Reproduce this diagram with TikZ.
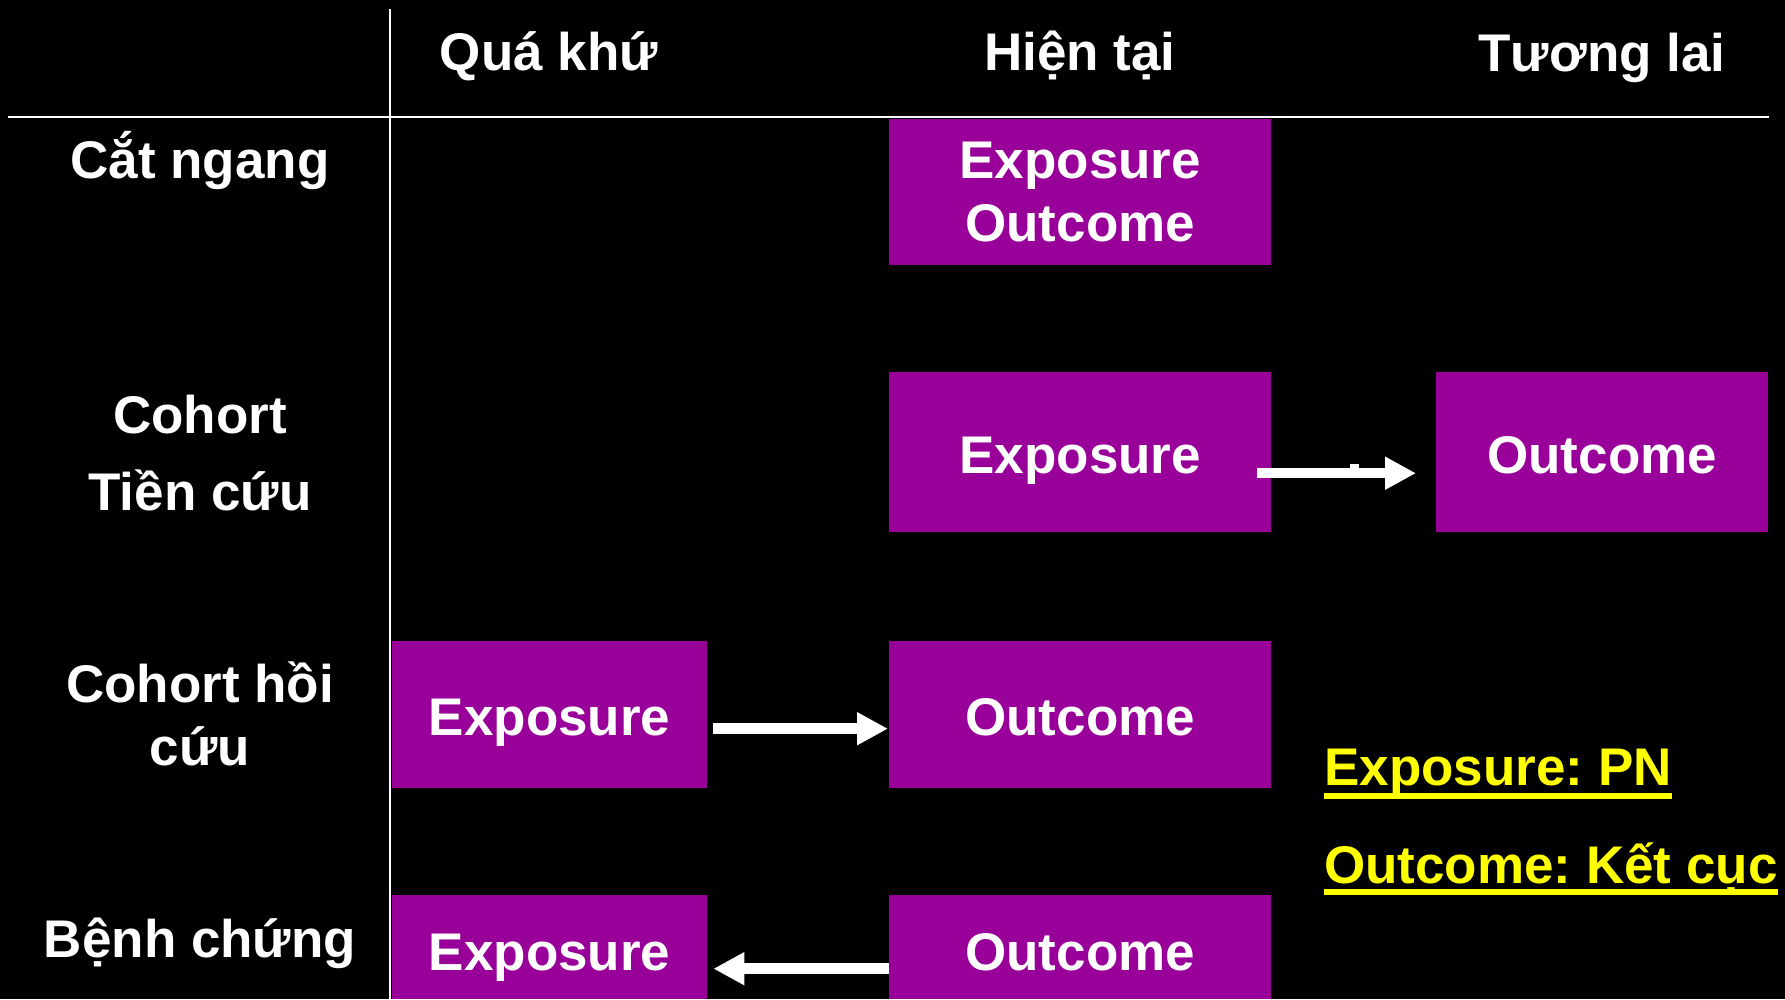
\documentclass[tikz,border=0pt]{standalone}
\usepackage{fontspec}
\setmainfont{Liberation Sans}
\usetikzlibrary{arrows.meta,calc}

\definecolor{boxpurple}{RGB}{153,0,153}
\definecolor{legendyellow}{RGB}{255,255,0}

\frenchspacing

\begin{document}
\begin{tikzpicture}[x=1pt,y=-1pt,
  bigfont/.style={font=\fontsize{53}{63}\selectfont\bfseries},
  box/.style={bigfont, fill=boxpurple, text=white, inner sep=0pt,
    align=center, anchor=north west},
  lab/.style={bigfont, text=white, inner sep=0pt, align=center, anchor=base},
  legend/.style={bigfont, text=legendyellow, inner sep=0pt, anchor=base west},
  rule/.style={white, line width=2.5pt},
  arr/.style={white, line width=10.5pt, -{Triangle[length=31pt,width=31pt]}},
  uline/.style={legendyellow, line width=5.5pt}]

  % page
  \fill[black] (0,0) rectangle (1785,999);
  \useasboundingbox (0,0) rectangle (1785,999);

  % table rules
  \coordinate (vtop) at (390,9);
  \coordinate (vbot) at (390,999);
  \coordinate (hl) at (8,117);
  \coordinate (hr) at (1769,117);
  \draw[rule] (vtop) -- (vbot);
  \draw[rule] (hl) -- (hr);

  % column headers
  \node[lab] (past) at (549,70.5) {Quá khứ};
  \node[lab] (now) at (1080,70.5) {Hiện tại};
  \node[lab] (future) at (1602,71) {Tương lai};

  % row labels (two-line labels are placed by the baseline of their last line)
  \node[lab] (r1) at (200,178) {Cắt ngang};
  \node[lab, font=\fontsize{53}{77}\selectfont\bfseries] (r2) at (200,510) {Cohort\\Tiền cứu};
  \node[lab] (r3) at (200,765) {Cohort hồi\\cứu};
  \node[lab] (r4) at (200,957) {Bệnh chứng};

  % boxes
  \node[box, text width=382pt, text height=59.5pt, text depth=86.5pt] (b1) at (889,118.5) {Exposure\\Outcome};
  \node[box, text width=382pt, text height=101pt, text depth=59pt] (b2) at (889,372) {Exposure};
  \node[box, text width=332pt, text height=101pt, text depth=59pt] (b3) at (1436,372) {Outcome};
  \node[box, text width=315pt, text height=94pt, text depth=53pt] (b4) at (392,641) {Exposure};
  \node[box, text width=382pt, text height=94pt, text depth=53pt] (b5) at (889,641) {Outcome};
  \node[box, text width=315pt, text height=75pt, text depth=29pt] (b6) at (392,895) {Exposure};
  \node[box, text width=382pt, text height=75pt, text depth=29pt] (b7) at (889,895) {Outcome};

  % arrows
  \draw[arr] ($(b2.east)+(-14,21)$) -- ($(b3.west)+(-20,21)$);
  \fill[white] (1350,464) rectangle (1359,468);
  \draw[arr] ($(b4.east)+(6,14)$) -- ($(b5.west)+(-1,14)$);
  \draw[arr] ($(b7.west)+(0,21.5)$) -- ($(b6.east)+(6,21.5)$);

  % legend
  \node[legend] (lg1) at (1324,785) {Exposure: PN};
  \node[legend] (lg2) at (1324,883) {Outcome: Kết cục};
  \draw[uline] ($(lg1.base west)+(0,11)$) -- ($(lg1.base east)+(0,11)$);
  \draw[uline] ($(lg2.base west)+(0,9)$) -- ($(lg2.base east)+(0,9)$);
\end{tikzpicture}
\end{document}
